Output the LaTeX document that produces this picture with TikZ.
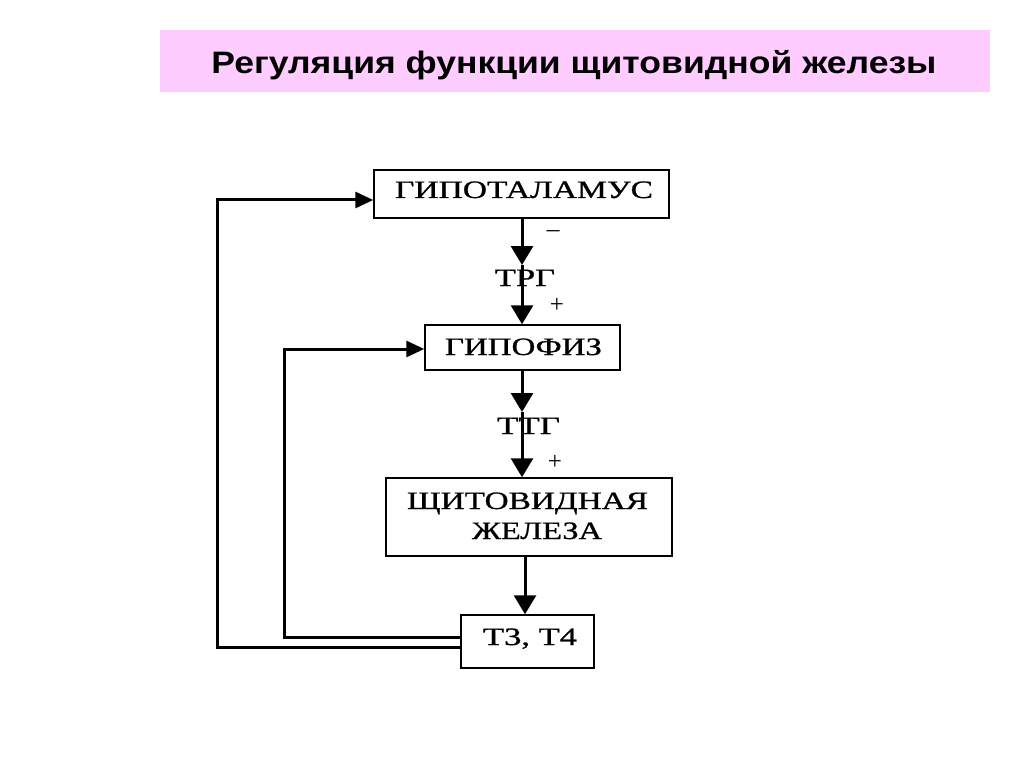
\documentclass[tikz,border=0pt]{standalone}
\usepackage{fontspec}
\usepackage{graphicx}
\setmainfont{Liberation Serif}
\newfontfamily\boxfont[FakeBold=0.8]{Liberation Serif}
\newfontfamily\titlefont{Liberation Sans}
\usetikzlibrary{arrows.meta}
\definecolor{titlepink}{HTML}{FFCCFF}
\newcommand\fitw[2]{\resizebox{#1pt}{\height}{#2}}
\begin{document}
\begin{tikzpicture}[x=1pt,y=-1pt,
  boxst/.style={draw=black, line width=1.5pt, fill=white, inner sep=0pt},
  btext/.style={anchor=base, inner sep=0pt, font=\boxfont\fontsize{25}{29}\selectfont},
  flow/.style={line width=3pt, -{Triangle[width=22pt,length=19pt]}},
  fb/.style={line width=3pt, -{Triangle[width=16pt,length=18pt]}},
  sign/.style={inner sep=0pt, font=\fontsize{25}{29}\selectfont}]
\useasboundingbox (0,0) rectangle (1024,767);
\fill[white] (0,0) rectangle (1024,767);
% title
\node[fill=titlepink, minimum width=830pt, minimum height=62pt, inner sep=0pt] (band) at (575,61) {};
\node[anchor=base, inner sep=0pt, font=\titlefont\bfseries\fontsize{31}{36}\selectfont] (title) at (574,74) {\fitw{725}{Регуляция функции щитовидной железы}};
% boxes
\node[boxst, minimum width=295pt, minimum height=48pt] (h) at (521.5,194) {};
\node[boxst, minimum width=195pt, minimum height=45pt] (p) at (522.5,347.5) {};
\node[boxst, minimum width=286pt, minimum height=78pt] (g) at (529,517) {};
\node[boxst, minimum width=133pt, minimum height=53pt] (t) at (527.5,641.5) {};
% box texts
\node[btext] (ht) at (524,198) {\fitw{258}{ГИПОТАЛАМУС}};
\node[btext] (pt) at (523.5,355) {\fitw{157}{ГИПОФИЗ}};
\node[btext] (gt1) at (527.5,509) {\fitw{241}{ЩИТОВИДНАЯ}};
\node[btext] (gt2) at (537,539) {\fitw{130}{ЖЕЛЕЗА}};
\node[btext] (tt) at (530,645) {\fitw{94}{Т3, Т4}};
% forward arrows
\coordinate (m1) at (522,265);
\draw[flow] (h.south -| m1) -- (m1);
\draw[flow] (m1) -- (p.north -| m1);
\coordinate (m2) at (522,412);
\draw[flow] (p.south -| m2) -- (m2);
\draw[flow] (m2) -- (g.north -| m2);
\coordinate (m3) at (525,0);
\draw[flow] (g.south -| m3) -- (t.north -| m3);
% hormone labels and signs
\node[btext] (trg) at (525,286) {\fitw{60}{ТРГ}};
\node[btext] (ttg) at (528.5,434) {\fitw{63}{ТТГ}};
\node[sign] (s1) at (553,235) {\fitw{16}{−}};
\node[sign] (s2) at (557,305) {+};
\node[sign] (s3) at (555,462) {+};
% feedback loops
\coordinate (o1) at (217,647);
\coordinate (o2) at (217,200);
\draw[fb] (t.west |- o1) -- (o1) -- (o2) -- (h.west |- o2);
\coordinate (i1) at (284,637);
\coordinate (i2) at (284,349);
\draw[fb] (t.west |- i1) -- (i1) -- (i2) -- (p.west |- i2);
\end{tikzpicture}
\end{document}
